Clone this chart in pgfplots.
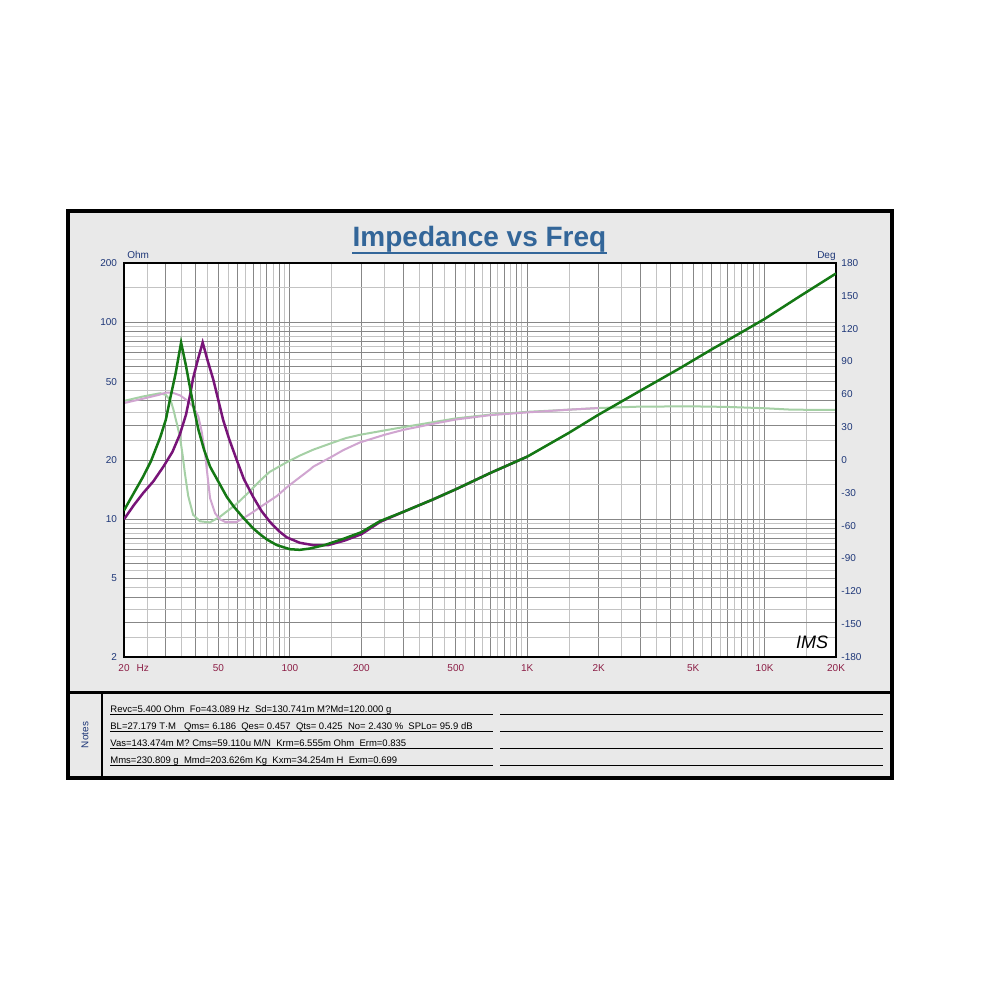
\documentclass[border=0pt]{standalone}
\usepackage{pgfplots}
\pgfplotsset{compat=1.18}
\usepackage{fontspec}
\setmainfont{Liberation Sans}
\definecolor{dgreen}{RGB}{20,120,20}
\definecolor{dpurple}{RGB}{120,20,120}
\definecolor{lgreen}{RGB}{165,208,165}
\definecolor{lpink}{RGB}{208,165,208}
\definecolor{gridd}{RGB}{135,135,135}
\definecolor{gridl}{RGB}{195,195,195}
\definecolor{panel}{RGB}{233,233,233}
\definecolor{lblue}{RGB}{30,55,120}
\definecolor{xred}{RGB}{140,30,70}
\definecolor{titleblue}{RGB}{51,102,153}
\newcommand\tfont{\fontsize{5}{6}\selectfont}
\newcommand\nfont{\fontsize{4.75}{5.5}\selectfont}
\begin{document}
\begin{tikzpicture}
\begin{scope}[x=0.5pt,y=-0.5pt]
\fill[white] (0,0) rectangle (1000,1000);
\fill[panel] (68,211) rectangle (892,778);
\end{scope}
% grid axis
\begin{axis}[at={(62pt,-328.5pt)}, anchor=south west, scale only axis,
  width=356pt, height=197pt, xmode=log, xmin=20, xmax=20000,
  major tick length=0pt, minor tick length=0pt,
  ymode=log, ymin=2, ymax=200,
  axis background/.style={fill=white},
  axis line style={draw=none},
  xtick={20,30,40,50,60,70,80,90,100,200,300,400,500,600,700,800,900,1000,2000,3000,4000,5000,6000,7000,8000,9000,10000,20000},
  xticklabels={{20\rlap{\hspace{3.5pt}Hz}},{},{},50,{},{},{},{},100,200,{},{},500,{},{},{},{},1K,2K,{},{},5K,{},{},{},{},10K,20K},
  minor xtick={25,35,45,55,65,75,85,95,150,250,350,450,550,650,750,850,950,1500,2500,3500,4500,5500,6500,7500,8500,9500,15000},
  ytick={2,3,4,5,6,7,8,9,10,20,30,40,50,60,70,80,90,100,200},
  yticklabels={2,{},{},5,{},{},{},{},10,20,{},{},50,{},{},{},{},100,200},
  minor ytick={2.5,3.5,4.5,5.5,6.5,7.5,8.5,9.5,15,25,35,45,55,65,75,85,95,150},
  grid=both,
  major grid style={draw=gridd, line width=0.5pt},
  minor grid style={draw=gridl, line width=0.5pt},
  xticklabel style={font=\tfont, text=xred, text height=3.6pt, text depth=0pt},
  yticklabel style={font=\tfont, text=lblue},
]
\addplot[draw=none] coordinates {(20,2)};
\end{axis}
% phase axis
\begin{axis}[at={(62pt,-328.5pt)}, anchor=south west, scale only axis,
  width=356pt, height=197pt, xmode=log, xmin=20, xmax=20000,
  major tick length=0pt, minor tick length=0pt,
  ymin=-180, ymax=180,
  axis line style={draw=none}, xtick=\empty,
  yticklabel pos=right,
  ytick={-180,-150,-120,-90,-60,-30,0,30,60,90,120,150,180},
  yticklabels={-180,-150,-120,-90,-60,-30,0,30,60,90,120,150,180},
  yticklabel style={font=\tfont, text=lblue, xshift=-0.8pt},
]
\addplot[lgreen, line width=1pt] coordinates {
(20,54) (24,58) (28.4,61) (30,59.5) (31.5,54) (32.3,46) (33.5,32) (34.4,21) (35.3,5) (36.1,-12) (37.3,-33) (39.1,-50) (41.8,-56) (46,-57) (50.6,-52) (55,-46) (59.7,-40) (66,-31) (74.8,-19) (82,-11) (97,-2) (110,4) (125.6,9.5) (150,15.5) (172,20) (197,23) (250,27) (300,30) (400,34.5) (500,38) (700,41.5) (1000,44) (1500,46) (2000,47.5) (3000,48.8) (5000,49) (7000,48.5) (10000,47.3) (13000,46) (20000,45.7)};
\addplot[lpink, line width=1pt] coordinates {
(20,52) (24,56) (28,59.5) (30,61.5) (32,61.5) (34.5,59) (36.6,55) (39,49) (41.1,40) (42.5,26) (43.9,6) (45,-15) (46.1,-35) (48.4,-48.7) (50.6,-54) (53.3,-56.5) (59.7,-56.5) (65,-52) (70,-47.5) (75,-43) (88,-33) (97,-25) (106.7,-18) (121,-9) (125.6,-6) (150,3) (167.7,9) (197,16) (250,23) (300,27.5) (400,33) (500,37) (700,41) (1000,43.5) (1500,46) (2000,47.5)};
\end{axis}
% impedance axis
\begin{axis}[at={(62pt,-328.5pt)}, anchor=south west, scale only axis,
  width=356pt, height=197pt, xmode=log, xmin=20, xmax=20000,
  ymode=log, ymin=2, ymax=200,
  axis line style={line width=1pt, black}, xtick=\empty, ytick=\empty]
\addplot[dpurple, line width=1.25pt] coordinates {
(20,10.0) (22,11.8) (24.1,13.6) (26.6,15.6) (29.3,18.5) (32,22) (34.4,27) (36.5,34) (38,43) (39.1,52) (41,65) (42.9,79) (45,64) (47.6,51) (50,40) (52.3,32) (55.5,25.5) (59.7,20) (64,16) (70,13) (76,11) (82.4,9.7) (90,8.7) (97,8.1) (110,7.6) (125,7.4) (145,7.4) (170,7.8) (200,8.4) (240,9.7) (300,10.9) (400,12.6) (500,14.2) (700,17.2) (1000,20.8)};
\addplot[dgreen, line width=1.25pt] coordinates {
(20,11.1) (22,13.6) (24.1,16.5) (26,19.8) (28.4,26) (30,32) (31.3,41) (33,55) (34.8,79) (36.5,60) (37.9,47) (39.5,36) (41.2,28.4) (43.5,22.5) (46.1,18.5) (50,15.5) (54.2,13.0) (58,11.6) (63.5,10.2) (70,9.0) (74.8,8.4) (80,7.9) (88,7.4) (100,7.05) (110,7.0) (121,7.1) (140,7.4) (170,8.0) (200,8.6) (240,9.8) (300,10.9) (400,12.6) (500,14.2) (700,17.2) (1000,20.8) (1500,27.5) (2000,34) (3000,45) (4400,58.5) (6000,73) (8000,89) (10000,104) (14000,135) (20000,177)};
\end{axis}
\begin{scope}[x=0.5pt,y=-0.5pt]
\draw[line width=2pt] (68,211) rectangle (892,778);
\draw[line width=1.5pt] (68,692) -- (892,692);
\draw[line width=1.2pt] (102,692) -- (102,778);
\node[inner sep=0pt, anchor=base, font=\fontsize{14}{15}\selectfont\bfseries, text=titleblue] (T) at (479.5,247) {Impedance vs Freq};
\draw[titleblue, line width=1pt] ([yshift=-3.2pt]T.base west) -- ([yshift=-3.2pt]T.base east);
\node[inner sep=0pt, anchor=base west, font=\tfont, text=lblue] at (127,258) {Ohm};
\node[inner sep=0pt, anchor=base east, font=\tfont, text=lblue] at (836,258) {Deg};
\node[inner sep=0pt, font=\fontsize{9}{9}\selectfont\itshape] at (812,642) {IMS};
\node[inner sep=0pt, rotate=90, font=\tfont, text=lblue] at (85,735) {Notes};
\foreach \yy in {714.5,731.5,748.5,765.5} {
  \draw[line width=0.5pt] (110,\yy) -- (493,\yy);
  \draw[line width=0.5pt] (500,\yy) -- (883,\yy);
}
\node[inner sep=0pt, anchor=base west, font=\nfont] at (110,712) {Revc=5.400 Ohm\ \ Fo=43.089 Hz\ \ Sd=130.741m M?Md=120.000 g};
\node[inner sep=0pt, anchor=base west, font=\nfont] at (110,729) {BL=27.179 T·M\ \ \ Qms= 6.186\ \ Qes= 0.457\ \ Qts= 0.425\ \ No= 2.430 \%\ \ SPLo= 95.9 dB};
\node[inner sep=0pt, anchor=base west, font=\nfont] at (110,746) {Vas=143.474m M? Cms=59.110u M/N\ \ Krm=6.555m Ohm\ \ Erm=0.835};
\node[inner sep=0pt, anchor=base west, font=\nfont] at (110,763) {Mms=230.809 g\ \ Mmd=203.626m Kg\ \ Kxm=34.254m H\ \ Exm=0.699};
\end{scope}
\end{tikzpicture}
\end{document}
